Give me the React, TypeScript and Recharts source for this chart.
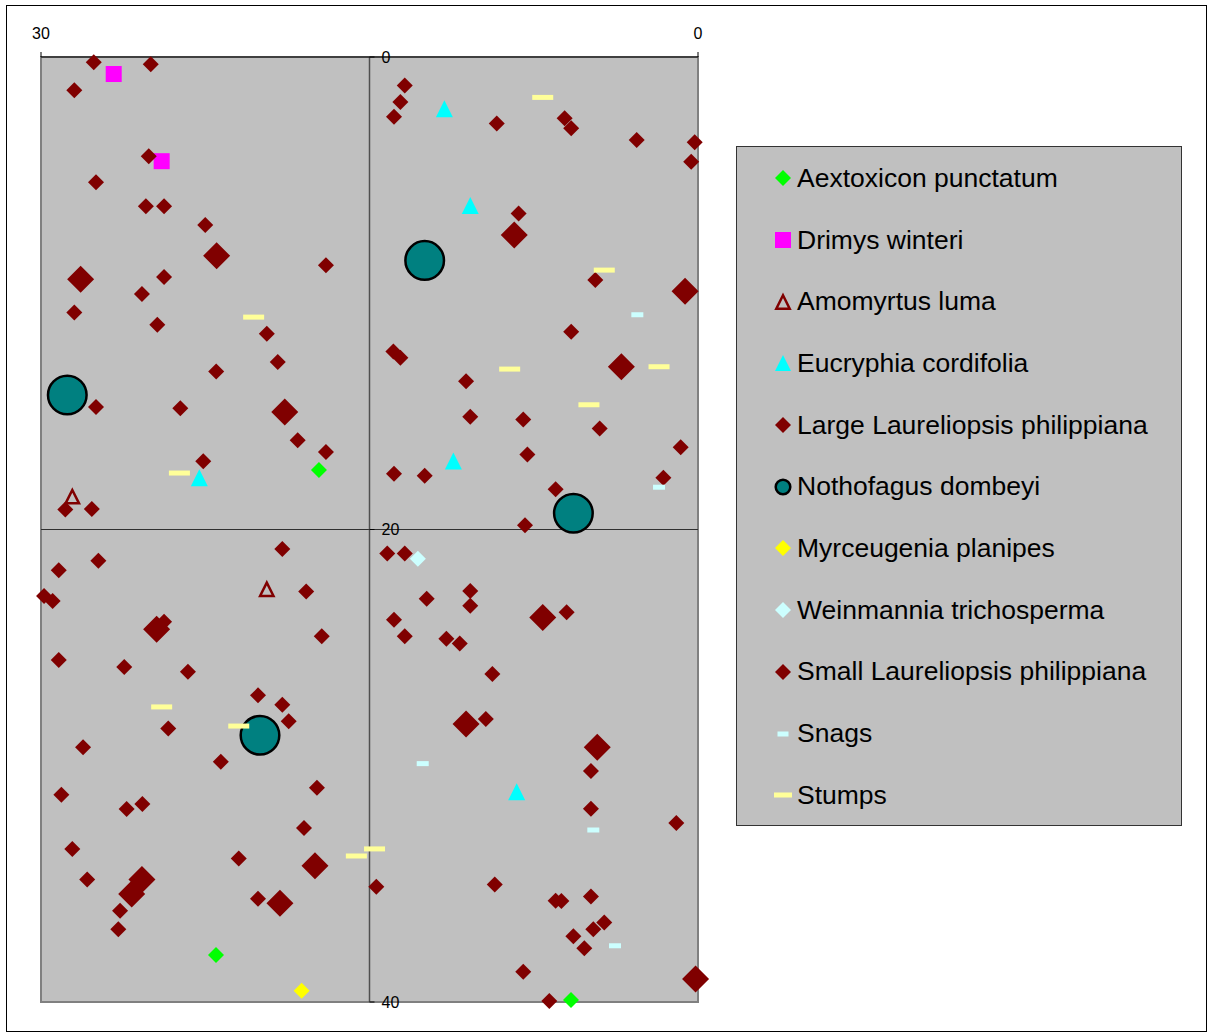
import { ScatterChart, Scatter, XAxis, YAxis, ReferenceArea, ReferenceLine, ReferenceDot, Legend } from 'recharts';

// axis ticks
const xTicks = [0, 30];
const yTicks = [0, 20, 40];

// [x, y] positions per species, in metres
const aextoxicon: [number, number][] = [[17.31, 17.48], [22.01, 38.01], [5.8, 39.92]];
const drimys: [number, number][] = [[26.68, 0.72], [24.49, 4.41]];
const amomyrtus: [number, number][] = [[28.57, 18.61], [19.69, 22.53]];
const eucryphia: [number, number][] = [[11.58, 2.19], [10.4, 6.29], [22.77, 17.81], [11.17, 17.1], [8.28, 31.1]];
const largeLaureliopsis: [number, number][] = [
    [21.98, 8.41], [28.19, 9.41], [18.87, 15.03], [24.72, 24.22], [8.39, 7.53],
    [0.59, 9.92], [3.5, 13.11], [7.09, 23.72], [17.49, 34.23], [19.09, 35.82],
    [25.39, 34.81], [25.86, 35.43], [10.59, 28.23], [4.6, 29.22], [0.11, 39.03],
];
const nothofagus: [number, number][] = [[12.48, 8.61], [28.8, 14.31], [5.69, 19.31], [20.0, 28.71]];
const myrceugenia: [number, number][] = [[18.1, 39.52]];
const weinmannia: [number, number][] = [[12.79, 21.24]];
const smallLaureliopsis: [number, number][] = [
    [27.59, 0.22], [24.99, 0.31], [28.48, 1.41], [25.08, 4.2], [27.49, 5.3], [25.21, 6.32],
    [24.38, 6.32], [22.5, 7.11], [16.99, 8.82], [24.38, 9.31], [25.39, 10.03], [28.48, 10.82],
    [24.69, 11.33], [19.69, 11.71], [19.19, 12.91], [22.0, 13.31],
    [13.39, 1.21], [13.59, 1.9], [13.88, 2.53], [9.19, 2.82], [6.09, 2.59], [5.79, 3.02],
    [2.8, 3.51], [0.15, 3.61], [0.31, 4.43], [8.19, 6.62], [4.69, 9.44], [5.79, 11.63],
    [13.91, 12.47], [13.59, 12.73],
    [10.59, 13.73], [10.4, 15.23], [7.98, 15.34], [4.49, 15.72], [0.79, 16.52], [7.79, 16.83],
    [13.88, 17.64], [12.48, 17.72], [1.58, 17.81], [6.5, 18.3], [7.9, 19.82], [14.19, 21.02],
    [13.39, 21.02], [10.4, 22.6], [12.39, 22.93], [10.4, 23.23], [6.0, 23.5], [13.88, 23.82],
    [13.39, 24.52], [11.49, 24.62], [10.88, 24.83], [9.39, 26.12],
    [27.49, 14.81], [23.64, 14.87], [18.28, 16.22], [16.99, 16.72], [22.59, 17.11], [28.89, 19.15],
    [27.68, 19.13], [18.98, 20.83], [29.19, 21.73], [27.38, 21.32], [29.86, 22.81], [29.47, 23.03],
    [17.89, 22.62], [24.38, 23.9], [17.18, 24.52], [29.19, 25.52], [26.2, 25.82], [23.29, 26.02],
    [20.09, 27.02], [18.98, 27.42], [18.69, 28.12], [24.19, 28.42], [28.08, 29.22], [21.79, 29.83],
    [17.4, 30.93], [29.07, 31.23], [26.09, 31.83], [25.37, 31.62], [17.99, 32.63], [28.57, 33.52],
    [20.97, 33.93], [27.89, 34.82], [20.09, 35.63], [26.39, 36.14], [26.47, 36.92],
    [9.69, 28.02], [4.89, 30.22], [4.89, 31.82], [0.99, 32.42], [14.69, 35.12], [9.28, 35.03],
    [6.5, 35.71], [6.24, 35.72], [4.89, 35.53], [4.28, 36.63], [4.78, 36.92], [5.69, 37.22],
    [5.19, 37.73], [7.98, 38.72], [6.79, 39.96],
];
const snags: [number, number][] = [[2.77, 10.91], [1.78, 18.21], [12.57, 29.91], [4.78, 32.72], [3.79, 37.62]];
const stumps: [number, number][] = [
    [20.29, 11.01], [7.09, 1.71], [4.28, 9.02], [8.6, 13.21], [1.78, 13.11], [4.98, 14.72],
    [23.68, 17.61], [24.49, 27.51], [20.97, 28.32], [15.6, 33.82], [14.77, 33.52],
];

type Marker = { kind: 'diamond' | 'square' | 'triangle' | 'openTriangle' | 'circle' | 'dash'; fill: string; size: number };

const drawMarker = (m: Marker, cx: number, cy: number) => {
    const s = m.size / 2;
    switch (m.kind) {
        case 'diamond':
            return <polygon points={`${cx},${cy - s} ${cx + s},${cy} ${cx},${cy + s} ${cx - s},${cy}`} fill={m.fill} />;
        case 'square':
            return <rect x={cx - s} y={cy - s} width={m.size} height={m.size} fill={m.fill} />;
        case 'triangle':
            return <polygon points={`${cx},${cy - s} ${cx + s},${cy + s} ${cx - s},${cy + s}`} fill={m.fill} />;
        case 'openTriangle': {
            const t = s - 1.3;
            return <polygon points={`${cx},${cy - t} ${cx + t},${cy + t} ${cx - t},${cy + t}`} fill="none" stroke={m.fill} strokeWidth={2.5} />;
        }
        case 'circle':
            return <circle cx={cx} cy={cy} r={s - 1.2} fill={m.fill} stroke="#000" strokeWidth={2.5} />;
        default:
            return <rect x={cx - s} y={cy - 2.5} width={m.size} height={5} fill={m.fill} />;
    }
};

const series: { name: string; points: [number, number][]; marker: Marker; legend: Marker }[] = [
    { name: 'Aextoxicon punctatum', points: aextoxicon, marker: { kind: 'diamond', fill: '#00FF00', size: 16 }, legend: { kind: 'diamond', fill: '#00FF00', size: 16 } },
    { name: 'Drimys winteri', points: drimys, marker: { kind: 'square', fill: '#FF00FF', size: 16 }, legend: { kind: 'square', fill: '#FF00FF', size: 16 } },
    { name: 'Amomyrtus luma', points: amomyrtus, marker: { kind: 'openTriangle', fill: '#800000', size: 16 }, legend: { kind: 'openTriangle', fill: '#800000', size: 16 } },
    { name: 'Eucryphia cordifolia', points: eucryphia, marker: { kind: 'triangle', fill: '#00FFFF', size: 17 }, legend: { kind: 'triangle', fill: '#00FFFF', size: 16 } },
    { name: 'Large Laureliopsis philippiana', points: largeLaureliopsis, marker: { kind: 'diamond', fill: '#800000', size: 27 }, legend: { kind: 'diamond', fill: '#800000', size: 16 } },
    { name: 'Nothofagus dombeyi', points: nothofagus, marker: { kind: 'circle', fill: '#008080', size: 41 }, legend: { kind: 'circle', fill: '#008080', size: 17 } },
    { name: 'Myrceugenia planipes', points: myrceugenia, marker: { kind: 'diamond', fill: '#FFFF00', size: 16 }, legend: { kind: 'diamond', fill: '#FFFF00', size: 16 } },
    { name: 'Weinmannia trichosperma', points: weinmannia, marker: { kind: 'diamond', fill: '#CCFFFF', size: 16 }, legend: { kind: 'diamond', fill: '#CCFFFF', size: 16 } },
    { name: 'Small Laureliopsis philippiana', points: smallLaureliopsis, marker: { kind: 'diamond', fill: '#800000', size: 16 }, legend: { kind: 'diamond', fill: '#800000', size: 16 } },
    { name: 'Snags', points: snags, marker: { kind: 'dash', fill: '#CCFFFF', size: 12 }, legend: { kind: 'dash', fill: '#CCFFFF', size: 11 } },
    { name: 'Stumps', points: stumps, marker: { kind: 'dash', fill: '#FFFF99', size: 21 }, legend: { kind: 'dash', fill: '#FFFF99', size: 18 } },
];

const renderLegend = () => (
    <div style={{ width: 444, height: 678, border: '1px solid #333', background: '#C0C0C0', fontSize: 26.5, color: '#000' }}>
        {series.map((s) => (
            <div key={s.name} style={{ height: 61.7, display: 'flex', alignItems: 'center', paddingTop: 1, boxSizing: 'border-box' }}>
                <svg width={24} height={20} style={{ marginLeft: 34, flexShrink: 0 }}>
                    {drawMarker(s.legend, 12, 10)}
                </svg>
                <span style={{ marginLeft: 2, whiteSpace: 'nowrap' }}>{s.name}</span>
            </div>
        ))}
    </div>
);

export default function App() {
    return (
        <div
            style={{
                position: 'absolute',
                left: 6,
                top: 5,
                width: 1199,
                height: 1025,
                border: '1px solid #000',
                background: '#fff',
                fontFamily: '"Liberation Sans", Arial, sans-serif',
            }}
        >
            <ScatterChart width={1199} height={1025} margin={{ top: 21, right: 508, bottom: 29, left: 34 }}>
                <XAxis
                    type="number"
                    dataKey="x"
                    domain={[0, 30]}
                    ticks={xTicks}
                    interval={0}
                    reversed
                    orientation="top"
                    height={30}
                    tickSize={5}
                    tickMargin={13}
                    axisLine={{ stroke: '#000' }}
                    tickLine={{ stroke: '#000' }}
                    tick={{ fill: '#000', fontSize: 16 }}
                />
                <YAxis type="number" dataKey="y" domain={[0, 40]} reversed hide />
                <ReferenceArea x1={0} x2={30} y1={0} y2={40} fill="#C0C0C0" fillOpacity={1} stroke="#808080" strokeWidth={2} />
                <ReferenceLine y={20} stroke="#303030" strokeWidth={1} />
                <ReferenceLine x={15} stroke="#505050" strokeWidth={1.5} />
                {yTicks.map((t) => (
                    <ReferenceDot
                        key={t}
                        x={15}
                        y={t}
                        r={0}
                        shape={(p: any) => (
                            <g>
                                <line x1={p.cx} x2={p.cx + 5} y1={p.cy} y2={p.cy} stroke="#000" />
                                <text x={p.cx + 12} y={p.cy} dominantBaseline="central" fontSize={16} fill="#000">
                                    {t}
                                </text>
                            </g>
                        )}
                    />
                ))}
                {series.map((s) => (
                    <Scatter
                        key={s.name}
                        name={s.name}
                        data={s.points.map(([x, y]) => ({ x, y }))}
                        isAnimationActive={false}
                        shape={(p: any) => drawMarker(s.marker, p.cx, p.cy)}
                    />
                ))}
                <Legend
                    layout="horizontal"
                    verticalAlign="middle"
                    align="center"
                    content={renderLegend}
                    wrapperStyle={{ left: 729, top: 140, width: 446, height: 680 }}
                />
            </ScatterChart>
        </div>
    );
}
